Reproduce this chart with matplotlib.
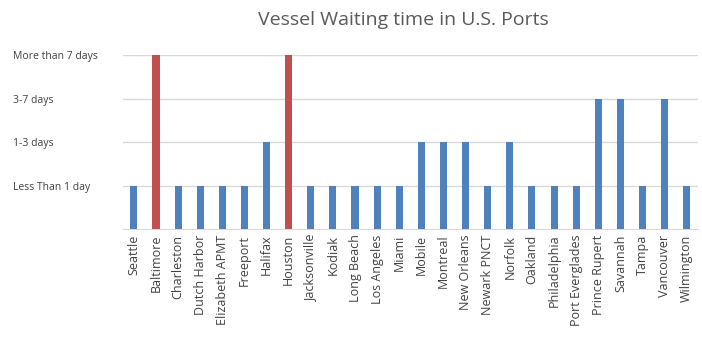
import matplotlib
matplotlib.use("Agg")
import matplotlib.pyplot as plt

ports = ["Seattle", "Baltimore", "Charleston", "Dutch Harbor", "Elizabeth APMT",
         "Freeport", "Halifax", "Houston", "Jacksonville", "Kodiak", "Long Beach",
         "Los Angeles", "Miami", "Mobile", "Montreal", "New Orleans", "Newark PNCT",
         "Norfolk", "Oakland", "Philadelphia", "Port Everglades", "Prince Rupert",
         "Savannah", "Tampa", "Vancouver", "Wilmington"]
wait_level = [1, 4, 1, 1, 1, 1, 2, 4, 1, 1, 1, 1, 1, 2, 2, 2, 1, 2, 1, 1, 1, 3, 3, 1, 3, 1]
level_labels = ["Less Than 1 day", "1-3 days", "3-7 days", "More than 7 days"]
level_values = [1, 2, 3, 4]

plt.rcParams['font.family'] = ['Open Sans', 'DejaVu Sans']

colors = ['#C0504D' if v == 4 else '#4F81BD' for v in wait_level]

fig = plt.figure(figsize=(7.02, 3.38), dpi=100)
ax = fig.add_axes([0.175, 0.3225, 0.819, 0.5145])
x = range(len(ports))
ax.bar(x, wait_level, width=0.32, color=colors, zorder=3)

ax.set_xlim(-0.5, len(ports) - 0.5)
ax.set_ylim(0, 4)
ax.set_yticks(level_values)
ax.set_yticklabels(level_labels, fontsize=7.5, color='#404040', ha='left')
ax.tick_params(axis='y', length=0, pad=79)
ax.set_xticks(list(x))
ax.set_xticklabels(ports, rotation=90, fontsize=9, color='#404040')
ax.tick_params(axis='x', length=0, pad=4)
ax.grid(axis='y', color='#D9D9D9', linewidth=1, zorder=0)

for side in ['top', 'right', 'left']:
    ax.spines[side].set_visible(False)
ax.spines['bottom'].set_color('#D9D9D9')

fig.text(0.575, 0.94, "Vessel Waiting time in U.S. Ports", ha='center', va='center',
         fontsize=14, color='#595959')

fig.savefig("out.png", dpi=100)
